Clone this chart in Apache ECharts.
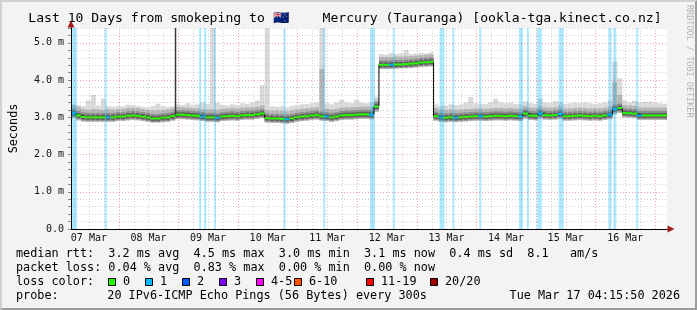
<!DOCTYPE html>
<html><head><meta charset="utf-8">
<script src="https://cdn.jsdelivr.net/npm/echarts@6/dist/echarts.min.js"></script>
<style>
html,body{margin:0;padding:0;background:#f3f3f3;}
#wrap{position:relative;width:697px;height:310px;overflow:hidden;}
#chart{width:697px;height:310px;}
#frame{position:absolute;left:0;top:0;width:697px;height:310px;box-sizing:border-box;border-left:2px solid #d2d2d2;border-top:2px solid #d2d2d2;border-right:2px solid #9c9c9c;border-bottom:2px solid #9c9c9c;pointer-events:none;}
</style></head>
<body><div id="wrap"><div id="chart"></div><div id="frame"></div></div>
<script>
// ---- text ----
const titleParts = ['Last 10 Days from smokeping to ', '🇳🇿', ' Mercury (Tauranga) [ookla-tga.kinect.co.nz]'];
const yAxisName = 'Seconds';
const sideText = 'RRDTOOL / TOBI OETIKER';
const dateText = 'Tue Mar 17 04:15:50 2026';
const probeText = '20 IPv6-ICMP Echo Pings (56 Bytes) every 300s';

// ---- time axis (hours after 07 Mar 00:00) ----
const startHour = 4.8;
const endHour = 244.8;
const slotHours = 2;
const dayLabels = ['07 Mar','08 Mar','09 Mar','10 Mar','11 Mar','12 Mar','13 Mar','14 Mar','15 Mar','16 Mar'];
const dayLabelHours = [12,36,60,84,108,132,156,180,204,228];

// ---- y axis (ms) ----
const yMax = 5.4;
const yMinorStep = 0.2;

// ---- series values, one per 2-hour slot (ms) ----
const median = [
3.11,3.05,3.01,3.00,3.00,3.00,3.00,3.00,3.00,3.02,
3.02,3.04,3.05,3.04,3.02,3.00,2.97,2.97,2.99,3.00,
3.03,3.07,3.07,3.06,3.05,3.04,3.02,3.00,3.00,2.99,
3.02,3.03,3.04,3.03,3.05,3.06,3.06,3.08,3.10,2.98,
2.97,2.97,2.96,2.95,2.97,3.00,3.02,3.03,3.05,3.06,
3.03,3.02,3.00,3.02,3.05,3.06,3.06,3.07,3.08,3.08,
3.07,3.29,4.41,4.41,4.41,4.42,4.42,4.43,4.44,4.45,
4.47,4.48,4.49,3.03,3.00,2.99,3.00,2.99,3.00,3.01,
3.02,3.03,3.03,3.02,3.03,3.04,3.04,3.03,3.04,3.03,
3.02,3.10,3.05,3.04,3.10,3.06,3.05,3.06,3.09,3.03,
3.03,3.04,3.05,3.04,3.03,3.04,3.03,3.05,3.07,3.22,
3.25,3.12,3.11,3.10,3.05,3.05,3.05,3.05,3.05,3.05];
const lossCount = [
1,0,0,0,0,0,0,1,0,0,
0,0,0,0,0,0,0,0,0,0,
0,0,0,0,0,0,1,0,0,1,
0,0,0,0,0,0,0,0,0,0,
0,0,0,1,0,0,0,0,0,0,
0,1,0,0,0,0,0,0,0,0,
1,0,0,0,1,0,0,0,0,0,
0,0,0,0,1,0,0,1,0,0,
0,0,1,0,0,0,0,0,0,0,
1,0,0,0,1,0,0,0,1,0,
0,0,0,0,0,0,0,0,1,1,
0,0,0,0,1,0,0,0,0,0];
const smokeLo = [
2.98,2.92,2.89,2.88,2.88,2.88,2.88,2.88,2.88,2.90,
2.90,2.92,2.93,2.92,2.90,2.88,2.86,2.86,2.87,2.88,
2.91,2.95,2.95,2.94,2.93,2.92,2.90,2.88,2.88,2.87,
2.90,2.91,2.92,2.91,2.93,2.94,2.94,2.96,2.98,2.86,
2.85,2.85,2.84,2.83,2.85,2.88,2.90,2.91,2.93,2.94,
2.91,2.90,2.88,2.90,2.93,2.94,2.94,2.95,2.96,2.96,
2.95,3.15,4.30,4.30,4.31,4.31,4.32,4.32,4.33,4.34,
4.35,4.36,4.37,2.91,2.88,2.87,2.88,2.87,2.88,2.89,
2.90,2.91,2.91,2.90,2.91,2.92,2.92,2.91,2.92,2.91,
2.90,2.96,2.93,2.92,2.96,2.94,2.93,2.94,2.96,2.91,
2.91,2.92,2.93,2.92,2.91,2.92,2.91,2.93,2.95,3.08,
3.12,3.00,2.99,2.98,2.93,2.93,2.93,2.93,2.93,2.93];
const smokeHi = [
3.32,3.28,3.22,3.20,3.22,3.21,3.20,3.22,3.20,3.22,
3.23,3.25,3.26,3.25,3.22,3.20,3.18,3.19,3.20,3.21,
3.24,3.28,3.27,3.26,3.25,3.24,3.22,3.21,3.22,3.20,
3.23,3.24,3.25,3.24,3.26,3.27,3.27,3.29,3.32,3.20,
3.18,3.18,3.17,3.16,3.18,3.21,3.23,3.24,3.26,3.27,
4.30,3.23,3.21,3.23,3.26,3.27,3.27,3.28,3.29,3.29,
3.28,3.45,4.62,4.62,4.62,4.63,4.63,4.64,4.65,4.66,
4.67,4.68,4.69,3.25,3.21,3.20,3.21,3.20,3.21,3.22,
3.23,3.24,3.24,3.23,3.24,3.25,3.25,3.24,3.25,3.24,
3.23,3.30,3.26,3.25,3.30,3.27,3.26,3.27,3.30,3.24,
3.24,3.25,3.26,3.25,3.24,3.25,3.24,3.26,3.30,3.95,
3.60,3.33,3.32,3.31,3.26,3.26,3.26,3.26,3.26,3.26];
const smokeMax = [
3.35,3.33,3.30,3.45,3.60,3.32,3.50,3.30,3.28,3.30,
3.30,3.34,3.33,3.30,3.28,3.27,3.30,3.37,3.30,3.28,
3.30,3.35,3.33,3.38,3.34,3.35,3.40,3.36,5.40,3.40,
3.34,3.32,3.35,3.33,3.38,3.36,3.40,3.45,3.87,5.40,
3.30,3.28,3.30,3.27,3.30,3.33,3.35,3.36,3.38,3.40,
5.40,3.38,3.35,3.40,3.47,3.40,3.38,3.47,3.40,3.38,
3.40,3.55,4.70,4.68,4.73,4.70,4.72,4.81,4.70,4.72,
4.73,4.72,4.75,3.35,3.30,3.32,3.35,3.33,3.35,3.40,
3.55,3.38,3.35,3.36,3.40,3.50,3.40,3.38,3.40,3.36,
3.35,3.42,3.38,3.36,3.50,3.40,3.38,3.43,3.40,3.36,
3.38,3.40,3.38,3.40,3.38,3.36,3.38,3.40,3.45,4.50,
4.05,3.45,3.40,3.45,3.40,3.42,3.42,3.40,3.38,3.36];
// loss background bands [start hour, end hour]
const lossBands = [
[4.8,7.2],[18.4,19.2],[56.4,57.2],[58.4,59.2],[62.4,63.2],[90.4,91.2],[106.4,107.2],
[125.2,127.2],[134.4,135.2],[153.2,155.2],[158.4,159.2],[169.2,170.0],[185.2,186.8],
[188.4,189.2],[192.4,194.4],[201.2,203.2],[221.2,222.4],[223.2,224.4],[232.4,233.2]];
// single off-scale median sample
const spikeHours = [46.8];
const spikeFrom = [3.07];
const spikeTo = [5.4];

// ---- legend / stats ----
const rttStats = ['3.2','4.5','3.0','3.1','0.4','8.1'];
const lossStats = ['0.04','0.83','0.00','0.00'];
const lossLabels = ['0','1','2','3','4-5','6-10','11-19','20/20'];
const lossColors = ['#26ff00','#00b8ff','#0059ff','#7e00ff','#ff00ff','#ff5500','#ff0000','#a10000'];

// ---- styles ----
const MONO = "'DejaVu Sans Mono', monospace";
const layout = { left: 67, right: 30, top: 28, bottom: 81 };
const legendX = 16;
const legendRows = [253.5, 267.8, 282.1, 296.4];
const lossBoxX = [108,145,182,219,256,294,366,430];

const chart = echarts.init(document.getElementById('chart'), null, {renderer:'canvas'});

const slotData = median.map((m,i)=>[startHour+i*slotHours, startHour+(i+1)*slotHours, smokeLo[i], smokeHi[i], smokeMax[i], m, lossCount[i]]);
const medianLine = median.map((m,i)=>[startHour+i*slotHours, m]);
medianLine.push([endHour, median[median.length-1]]);

const vGrid = [];
for (let h = 6; h < endHour; h += 6) if (h > startHour) vGrid.push([h]);

function renderVGrid(params, api) {
  const h = api.value(0);
  const p0 = api.coord([h, 0]);
  const p1 = api.coord([h, yMax]);
  const x = Math.round(p0[0]) + 0.5;
  const major = (h % 24) === 0;
  return {type:'line', shape:{x1:x, y1:p0[1], x2:x, y2:p1[1]},
    style:{stroke: major ? 'rgba(225,90,90,0.55)' : 'rgba(120,120,120,0.35)', lineWidth:1, lineDash:[1,2]}};
}
function renderSmoke(params, api) {
  const t0 = api.value(0), t1 = api.value(1);
  const pLo = api.coord([t0, api.value(2)]);
  const pHi = api.coord([t1, api.value(3)]);
  const pMax = api.coord([t1, api.value(4)]);
  const pMed = api.coord([t0, api.value(5)]);
  const x0 = pLo[0], w = pHi[0] - pLo[0];
  return {type:'group', children:[
    {type:'rect', shape:{x:x0, y:pMax[1], width:w, height:pLo[1]-pMax[1]}, style:{fill:'#d9d9d9'}},
    {type:'rect', shape:{x:x0, y:pHi[1], width:w, height:pLo[1]-pHi[1]}, style:{fill:'#b5b5b5'}},
    {type:'rect', shape:{x:x0, y:pMed[1]-4.5, width:w, height:8}, style:{fill:'#8c8c8c'}},
    {type:'rect', shape:{x:x0, y:pMed[1]-2.5, width:w, height:5}, style:{fill:'#5f5f5f'}}
  ]};
}
function renderLossBand(params, api) {
  const a = api.coord([api.value(0), yMax]);
  const b = api.coord([api.value(1), 0]);
  return {type:'rect', shape:{x:a[0], y:a[1], width:b[0]-a[0], height:b[1]-a[1]}, style:{fill:'rgba(0,184,255,0.32)'}};
}
function renderMedian(params, api) {
  const a = api.coord([api.value(0), api.value(5)]);
  const b = api.coord([api.value(1), api.value(5)]);
  return {type:'rect', shape:{x:a[0], y:a[1]-1, width:b[0]-a[0], height:2}, style:{fill: lossColors[api.value(6)]}};
}
function renderSpike(params, api) {
  const a = api.coord([api.value(0), api.value(1)]);
  const b = api.coord([api.value(0), api.value(2)]);
  const x = Math.round(a[0]) + 0.5;
  return {type:'line', shape:{x1:x, y1:a[1], x2:x, y2:b[1]}, style:{stroke:'#3a3a3a', lineWidth:1.5}};
}

const line1 = 'median rtt:  ' + rttStats[0] + ' ms avg  ' + rttStats[1] + ' ms max  ' + rttStats[2] + ' ms min  ' + rttStats[3] + ' ms now  ' + rttStats[4] + ' ms sd  ' + rttStats[5] + '   am/s';
const line2 = 'packet loss: ' + lossStats[0] + ' % avg  ' + lossStats[1] + ' % max  ' + lossStats[2] + ' % min  ' + lossStats[3] + ' % now';
const legendFont = '11.8px ' + MONO;
const titleFont = '13.1px ' + MONO;

const graphics = [
  {type:'text', x:28.3, y:19, style:{
    text:'{a|' + titleParts[0] + '}{f|' + titleParts[1] + '}{a|' + titleParts[2] + '}',
    rich:{a:{font:titleFont, fill:'#000'}, f:{font:titleFont, fill:'#000', width:42, align:'left'}},
    font:titleFont, fill:'#000', verticalAlign:'middle', align:'left'}},
  {type:'text', x:689, y:5, rotation:-Math.PI/2, style:{text:sideText, font:'8.5px ' + MONO, fill:'#b4b4b4', verticalAlign:'middle', align:'left'}},
  {type:'text', x:legendX, y:legendRows[0], style:{text:line1, font:legendFont, fill:'#000', verticalAlign:'middle'}},
  {type:'text', x:legendX, y:legendRows[1], style:{text:line2, font:legendFont, fill:'#000', verticalAlign:'middle'}},
  {type:'text', x:legendX, y:legendRows[2], style:{text:'loss color:', font:legendFont, fill:'#000', verticalAlign:'middle'}},
  {type:'text', x:legendX, y:legendRows[3], style:{text:'probe:', font:legendFont, fill:'#000', verticalAlign:'middle'}},
  {type:'text', x:legendX + 91.3, y:legendRows[3], style:{text:probeText, font:legendFont, fill:'#000', verticalAlign:'middle'}},
  {type:'text', x:680, y:legendRows[3], style:{text:dateText, font:legendFont, fill:'#000', verticalAlign:'middle', align:'right'}}
];
lossLabels.forEach((lab, i) => {
  graphics.push({type:'rect', shape:{x:lossBoxX[i]+0.5, y:Math.round(legendRows[2])-4+0.5, width:7, height:7}, style:{fill:lossColors[i], stroke:'#000', lineWidth:1}});
  graphics.push({type:'text', x:lossBoxX[i]+15, y:legendRows[2], style:{text:lab, font:legendFont, fill:'#000', verticalAlign:'middle'}});
});

const option = {
  animation: false,
  backgroundColor: '#f3f3f3',
  grid: {left:layout.left, right:layout.right, top:layout.top, bottom:layout.bottom, containLabel:false, show:true, backgroundColor:'#ffffff', borderWidth:0},
  xAxis: [{
    type:'value', min:startHour, max:endHour, position:'bottom', z:6,
    axisLine:{show:true, onZero:false, lineStyle:{color:'#000', width:1}},
    axisTick:{show:false}, splitLine:{show:false},
    axisLabel:{customValues: dayLabelHours, formatter:(v)=>{const k = dayLabelHours.findIndex(h=>Math.abs(h-v)<1e-6); return k>=0 ? dayLabels[k] : '';},
      fontFamily:MONO, fontSize:10, color:'#111', margin:4}
  },{
    type:'value', min:startHour, max:endHour, position:'bottom', z:5,
    axisLine:{show:true, onZero:false, symbol:['none','triangle'], symbolSize:[7,7], symbolOffset:[0,4], lineStyle:{color:'#a11a1a', width:1}},
    axisTick:{show:false}, axisLabel:{show:false}, splitLine:{show:false}
  }],
  yAxis: [{
    type:'value', min:0, max:yMax, interval:yMinorStep, position:'left', z:6,
    axisLine:{show:true, onZero:false, lineStyle:{color:'#000', width:1}},
    axisTick:{show:true, length:3, lineStyle:{color:'#888'}},
    axisLabel:{fontFamily:MONO, fontSize:10, color:'#111', margin:7,
      formatter:(v)=>{ if (Math.abs(v-Math.round(v))>1e-6) return ''; const r = Math.round(v); return r===0 ? '0.0' : r.toFixed(1)+' m'; }},
    splitLine:{show:true, lineStyle:{color:['rgba(225,90,90,0.55)','rgba(120,120,120,0.35)','rgba(120,120,120,0.35)','rgba(120,120,120,0.35)','rgba(120,120,120,0.35)'], type:[1,2], width:1}},
    name:yAxisName, nameLocation:'middle', nameGap:51, nameRotate:90,
    nameTextStyle:{fontFamily:MONO, fontSize:11.8, color:'#000'}
  },{
    type:'value', min:0, max:yMax, interval:yMinorStep, position:'left', z:5,
    axisLine:{show:true, onZero:false, symbol:['none','triangle'], symbolSize:[7,7], symbolOffset:[0,4], lineStyle:{color:'#a11a1a', width:1}},
    axisTick:{show:false}, axisLabel:{show:false}, splitLine:{show:false}
  }],
  series: [
    {type:'custom', name:'vgrid', z:1, silent:true, clip:true, renderItem:renderVGrid, data:vGrid, encode:{x:0}},
    {type:'custom', name:'smoke', z:2, silent:true, clip:true, renderItem:renderSmoke, data:slotData, encode:{x:[0,1], y:[2,3,4,5]}},
    {type:'custom', name:'lossbg', z:3, silent:true, clip:true, renderItem:renderLossBand, data:lossBands, encode:{x:[0,1]}},
    {type:'line', name:'median', z:4, silent:true, step:'end', symbol:'none', data:medianLine, lineStyle:{color:'#000', width:1}},
    {type:'custom', name:'medianLoss', z:5, silent:true, clip:true, renderItem:renderMedian, data:slotData, encode:{x:[0,1], y:5}},
    {type:'custom', name:'spike', z:5, silent:true, clip:true, renderItem:renderSpike, data:spikeHours.map((h,i)=>[h, spikeFrom[i], spikeTo[i]]), encode:{x:0, y:[1,2]}}
  ],
  graphic: graphics
};
chart.setOption(option);
</script>
</body></html>
